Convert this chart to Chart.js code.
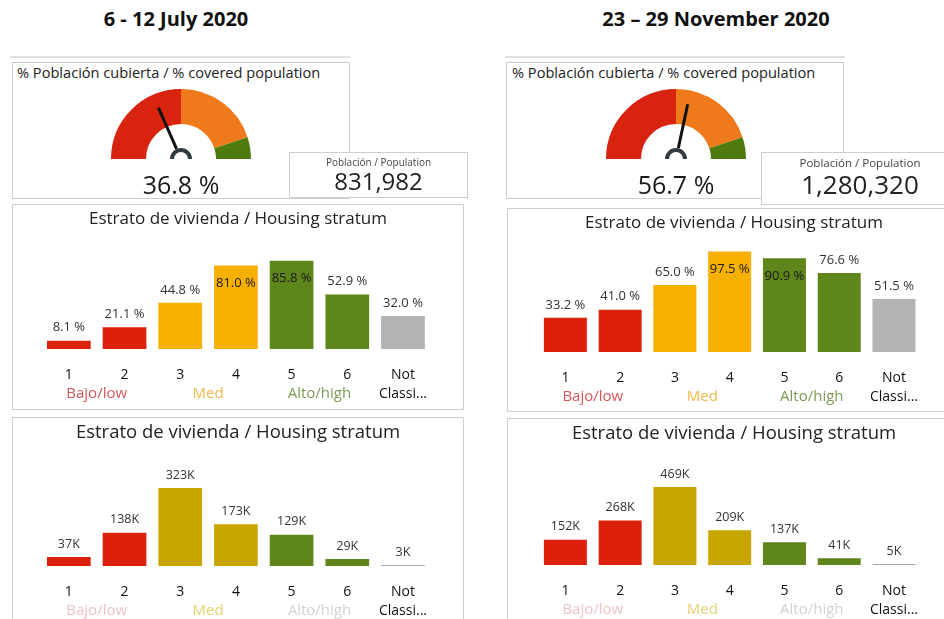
<!DOCTYPE html>
<html><head><meta charset="utf-8">
<script src="https://cdn.jsdelivr.net/npm/chart.js@4.4.1/dist/chart.umd.min.js"></script>
<style>
html,body{margin:0;padding:0}
body{width:944px;height:619px;overflow:hidden;background:#fff;position:relative;font-family:"Open Sans","Noto Sans",sans-serif;color:#222}
.card{position:absolute;border:1px solid #cdcdcd;background:#fff;box-sizing:border-box}
.line{position:absolute;height:2px;background:#e1e1e1}
.ttl{position:absolute;text-align:center;font-weight:700;font-size:20px;color:#111;white-space:nowrap}
.gt{position:absolute;font-size:14.6px;color:#222;white-space:nowrap}
.gv{position:absolute;text-align:center;font-size:25px;color:#1a1a1a;white-space:nowrap}
.pl{position:absolute;left:0;right:0;text-align:center;color:#444;white-space:nowrap}
.pv{position:absolute;left:0;right:0;text-align:center;color:#222;white-space:nowrap}
.ct{position:absolute;left:0;right:0;text-align:center;color:#222;white-space:nowrap}
canvas{position:absolute}
</style></head>
<body>
<!-- left column -->
<div class="ttl" style="left:0;width:352px;top:5px">6 - 12 July 2020</div>
<div class="line" style="left:10px;width:340px;top:56px"></div>
<div class="card" style="left:12px;top:62px;width:338px;height:137px"></div>
<div class="gt" style="left:17px;top:62px">% Población cubierta / % covered population</div>
<canvas id="g1" width="160" height="84" style="left:101px;top:87px"></canvas>
<div class="gv" id="v1" style="left:101px;width:160px;top:167px"></div>
<div class="card" style="left:289px;top:152px;width:179px;height:46px">
  <div class="pl" style="top:2px;font-size:10px">Población / Population</div>
  <div class="pv" id="p1" style="top:11px;font-size:24px"></div>
</div>
<div class="card" style="left:12px;top:204px;width:452px;height:206px">
  <div class="ct" style="top:1px;font-size:17px">Estrato de vivienda / Housing stratum</div>
</div>
<canvas id="b1" width="402" height="173" style="left:41px;top:236px"></canvas>
<div class="card" style="left:12px;top:417px;width:452px;height:220px">
  <div class="ct" style="top:0px;font-size:18.5px">Estrato de vivienda / Housing stratum</div>
</div>
<canvas id="c1" width="402" height="173" style="left:41px;top:453px"></canvas>

<!-- right column -->
<div class="ttl" style="left:540px;width:352px;top:5px">23 – 29 November 2020</div>
<div class="line" style="left:505px;width:340px;top:56px"></div>
<div class="card" style="left:506px;top:62px;width:338px;height:137px"></div>
<div class="gt" style="left:512px;top:62px">% Población cubierta / % covered population</div>
<canvas id="g2" width="160" height="84" style="left:596px;top:87px"></canvas>
<div class="gv" id="v2" style="left:596px;width:160px;top:167px"></div>
<div class="card" style="left:761px;top:152px;width:198px;height:53px">
  <div class="pl" style="top:2px;font-size:11.5px">Población / Population</div>
  <div class="pv" id="p2" style="top:13px;font-size:26px"></div>
</div>
<div class="card" style="left:507px;top:208px;width:460px;height:204px">
  <div class="ct" style="top:1px;font-size:17px;width:452px">Estrato de vivienda / Housing stratum</div>
</div>
<canvas id="b2" width="396" height="173" style="left:538px;top:239px"></canvas>
<div class="card" style="left:507px;top:418px;width:460px;height:220px">
  <div class="ct" style="top:0px;font-size:18.5px;width:452px">Estrato de vivienda / Housing stratum</div>
</div>
<canvas id="c2" width="396" height="173" style="left:538px;top:452px"></canvas>

<script>
// ---------- data ----------
const strata = ["1", "2", "3", "4", "5", "6", ["Not", "Classi..."]];
const groupNames = ["Bajo/low", "Med", "Alto/high"];
const julyCoverage = [8.1, 21.1, 44.8, 81.0, 85.8, 52.9, 32.0];
const novCoverage = [33.2, 41.0, 65.0, 97.5, 90.9, 76.6, 51.5];
const julyPopulationK = [37, 138, 323, 173, 129, 29, 3];
const novPopulationK = [152, 268, 469, 209, 137, 41, 5];
const julyTotalCoverage = 36.8;
const novTotalCoverage = 56.7;
const julyPopulation = 831982;
const novPopulation = 1280320;
const gaugeBands = [50, 40, 10];

// ---------- styles ----------
const FONT = '"Open Sans","Noto Sans",sans-serif';
const gaugeColors = ['#d8230f', '#ef7a1b', '#4f7a0d'];
const coverageColors = ['#dc200c', '#dc200c', '#f6b000', '#f6b000', '#5e861a', '#5e861a', '#b3b3b3'];
const countColors = ['#dc200c', '#dc200c', '#c9a500', '#c9a500', '#5e861a', '#5e861a', '#a8a8a8'];
const coverageGroupColors = ['#d4585a', '#f1b94a', '#7d9a58'];
const countGroupColors = ['#f1c3c3', '#e6d170', '#d2d2d2'];

document.getElementById('v1').textContent = julyTotalCoverage.toFixed(1) + ' %';
document.getElementById('v2').textContent = novTotalCoverage.toFixed(1) + ' %';
document.getElementById('p1').textContent = julyPopulation.toLocaleString('en-US');
document.getElementById('p2').textContent = novPopulation.toLocaleString('en-US');

// ---------- gauge ----------
const needlePlugin = {
  id: 'needle',
  afterDatasetsDraw(chart, args, o) {
    const arc = chart.getDatasetMeta(0).data[0];
    const cx = arc.x, cy = arc.y, R = arc.outerRadius;
    const total = chart.data.datasets[0].data.reduce((s, v) => s + v, 0);
    const ang = Math.PI + (o.value / total) * Math.PI;
    const ctx = chart.ctx;
    ctx.save();
    ctx.strokeStyle = '#111';
    ctx.lineWidth = 3;
    ctx.beginPath();
    ctx.moveTo(cx + Math.cos(ang) * 11, cy + Math.sin(ang) * 11);
    ctx.lineTo(cx + Math.cos(ang) * R * 0.8, cy + Math.sin(ang) * R * 0.8);
    ctx.stroke();
    ctx.strokeStyle = '#2e3c41';
    ctx.lineWidth = 4;
    ctx.beginPath();
    ctx.arc(cx, cy, 9, Math.PI, 2 * Math.PI);
    ctx.stroke();
    ctx.restore();
  }
};

function gauge(id, value) {
  new Chart(document.getElementById(id), {
    type: 'doughnut',
    data: { labels: ['low', 'med', 'high'], datasets: [{ data: gaugeBands, backgroundColor: gaugeColors, borderWidth: 0, hoverOffset: 0 }] },
    options: {
      responsive: false, devicePixelRatio: 1, animation: false,
      rotation: -90, circumference: 180, cutout: '50%',
      layout: { padding: { left: 10, right: 10, top: 2, bottom: 12 } },
      plugins: { legend: { display: false }, tooltip: { enabled: false }, needle: { value } },
      events: []
    },
    plugins: [needlePlugin]
  });
}
gauge('g1', julyTotalCoverage);
gauge('g2', novTotalCoverage);

// ---------- bar charts ----------
const valueLabels = {
  id: 'valueLabels',
  afterDatasetsDraw(chart, args, o) {
    const ctx = chart.ctx, meta = chart.getDatasetMeta(0), ds = chart.data.datasets[0];
    ctx.save();
    ctx.font = o.size + 'px ' + FONT;
    ctx.textAlign = 'center';
    ctx.textBaseline = 'middle';
    meta.data.forEach((bar, i) => {
      const txt = o.format(ds.data[i]);
      let y = bar.y - 13;
      if (y - 8 < chart.chartArea.top) { y = bar.y + 18; ctx.fillStyle = '#1a1a1a'; }
      else ctx.fillStyle = '#333';
      ctx.fillText(txt, bar.x, y);
    });
    ctx.restore();
  }
};
const groupLabels = {
  id: 'groupLabels',
  afterDraw(chart, args, o) {
    const ctx = chart.ctx, xs = chart.scales.x;
    ctx.save();
    ctx.font = '15px ' + FONT;
    ctx.textAlign = 'center';
    ctx.textBaseline = 'middle';
    groupNames.forEach((name, g) => {
      const x = (xs.getPixelForValue(2 * g) + xs.getPixelForValue(2 * g + 1)) / 2;
      ctx.fillStyle = o.colors[g];
      ctx.fillText(name, x, chart.chartArea.bottom + 45);
    });
    ctx.restore();
  }
};

function bars(id, values, colors, groupColors, yMax, format, minLen) {
  new Chart(document.getElementById(id), {
    type: 'bar',
    data: { labels: strata, datasets: [{ data: values, backgroundColor: colors, borderWidth: 0, categoryPercentage: 1, barPercentage: 0.785, minBarLength: minLen }] },
    options: {
      responsive: false, devicePixelRatio: 1, animation: false, events: [],
      layout: { padding: { top: 10, left: 0, right: 0, bottom: 0 } },
      scales: {
        x: {
          grid: { display: false, drawTicks: false }, border: { display: false },
          ticks: { color: '#111', font: { family: FONT, size: 14, lineHeight: 1.4 }, padding: 16, maxRotation: 0, autoSkip: false },
          afterFit(s) { s.height = 60; }
        },
        y: { display: false, min: 0, max: yMax }
      },
      plugins: { legend: { display: false }, tooltip: { enabled: false },
        valueLabels: { format, size: format === pct ? 13 : 12.5 },
        groupLabels: { colors: groupColors } }
    },
    plugins: [valueLabels, groupLabels]
  });
}
const pct = v => v.toFixed(1) + ' %';
const kfmt = v => v + 'K';
bars('b1', julyCoverage, coverageColors, coverageGroupColors, 100, pct, 0);
bars('b2', novCoverage, coverageColors, coverageGroupColors, 100, pct, 0);
bars('c1', julyPopulationK, countColors, countGroupColors, Math.max(...julyPopulationK) * 1.32, kfmt, 1);
bars('c2', novPopulationK, countColors, countGroupColors, Math.max(...novPopulationK) * 1.32, kfmt, 1);
</script>
</body></html>
